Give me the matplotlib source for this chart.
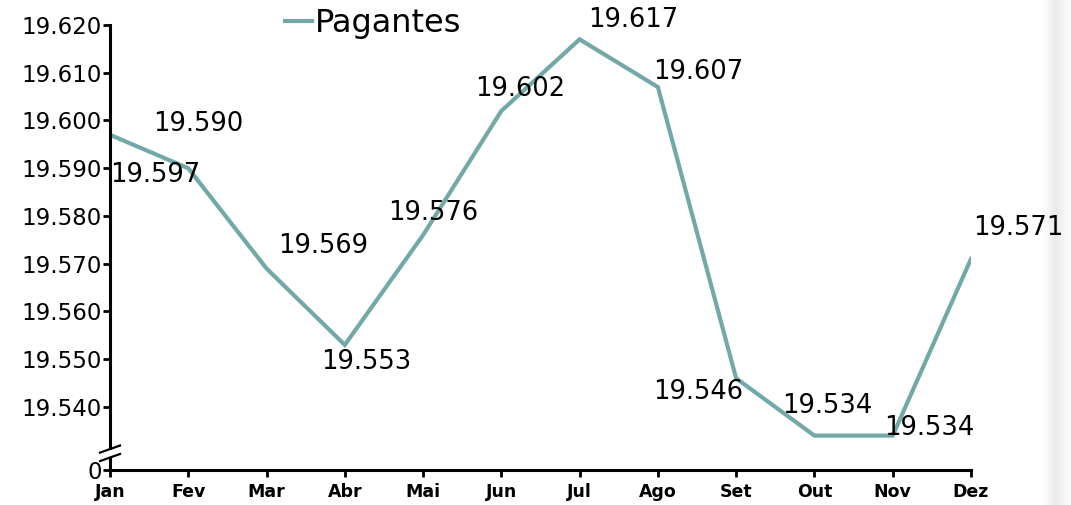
import numpy as np
import matplotlib.pyplot as plt

months = ["Jan", "Fev", "Mar", "Abr", "Mai", "Jun", "Jul", "Ago", "Set", "Out", "Nov", "Dez"]
pagantes = [19.597, 19.590, 19.569, 19.553, 19.576, 19.602, 19.617, 19.607, 19.546, 19.534, 19.534, 19.571]
ytick_vals = [19.540, 19.550, 19.560, 19.570, 19.580, 19.590, 19.600, 19.610, 19.620]
ytick_labels = ["19.540", "19.550", "19.560", "19.570", "19.580", "19.590", "19.600", "19.610", "19.620"]
y_zero = 19.5268  # where the "0" sits below the axis break

# label offsets in pixels (dx, dy)
label_offsets = [(45, -40), (10, 44), (57, 23), (21, -17), (10, 22), (19, 22),
                 (54, 19), (40, 15), (-38, -14), (13, 30), (37, 8), (47, 31)]

line_color = "#72a9a8"

fig = plt.figure(figsize=(10.71, 5.05), dpi=100)

# faint shading on the right edge of the original image
bg = fig.add_axes([0.965, 0, 0.035, 1], zorder=-1)
grad = np.array([[1.0, 0.995, 0.98, 0.95, 0.91, 0.94, 0.965, 0.975]])
bg.imshow(grad, cmap="gray", vmin=0, vmax=1, aspect="auto", interpolation="bicubic")
bg.axis("off")

ax = fig.add_axes([0.1027, 0.0693, 0.8039, 0.8812])
ax.patch.set_alpha(0)

x = np.arange(len(months))
ax.plot(x, pagantes, color=line_color, lw=3, label="Pagantes", solid_joinstyle="miter")

for i, v in enumerate(pagantes):
    dx, dy = label_offsets[i]
    ax.annotate(f"{v:.3f}", (x[i], v), xytext=(dx, dy), textcoords="offset pixels",
                ha="center", va="center", fontsize=18.5, color="black")

ax.set_xlim(0, 11)
ax.set_ylim(y_zero, 19.620)
ax.set_xticks(x)
ax.set_xticklabels(months, fontsize=12.5, fontweight="bold")
ax.set_yticks([y_zero] + ytick_vals)
ax.set_yticklabels(["0"] + ytick_labels, fontsize=16.5)

for s in ["top", "right"]:
    ax.spines[s].set_visible(False)
for s in ["left", "bottom"]:
    ax.spines[s].set_linewidth(2.2)
ax.tick_params(axis="both", width=2, length=5, pad=1)
ax.tick_params(axis="x", pad=4)

# axis break on the left spine
ax.add_patch(plt.Rectangle((-0.004, 0.030), 0.008, 0.016, transform=ax.transAxes,
                           facecolor="white", edgecolor="none", clip_on=False, zorder=5))
for yc in [0.028, 0.047]:
    ax.plot([-0.0116, 0.0116], [yc - 0.008, yc + 0.008], transform=ax.transAxes,
            color="black", lw=1.6, clip_on=False, zorder=6)

leg = ax.legend(loc="center left", bbox_to_anchor=(0.203, 1.004), frameon=False,
                fontsize=23, handlelength=0.85, handletextpad=0.08, borderaxespad=0,
                borderpad=0)

fig.savefig("out.png", dpi=100)
